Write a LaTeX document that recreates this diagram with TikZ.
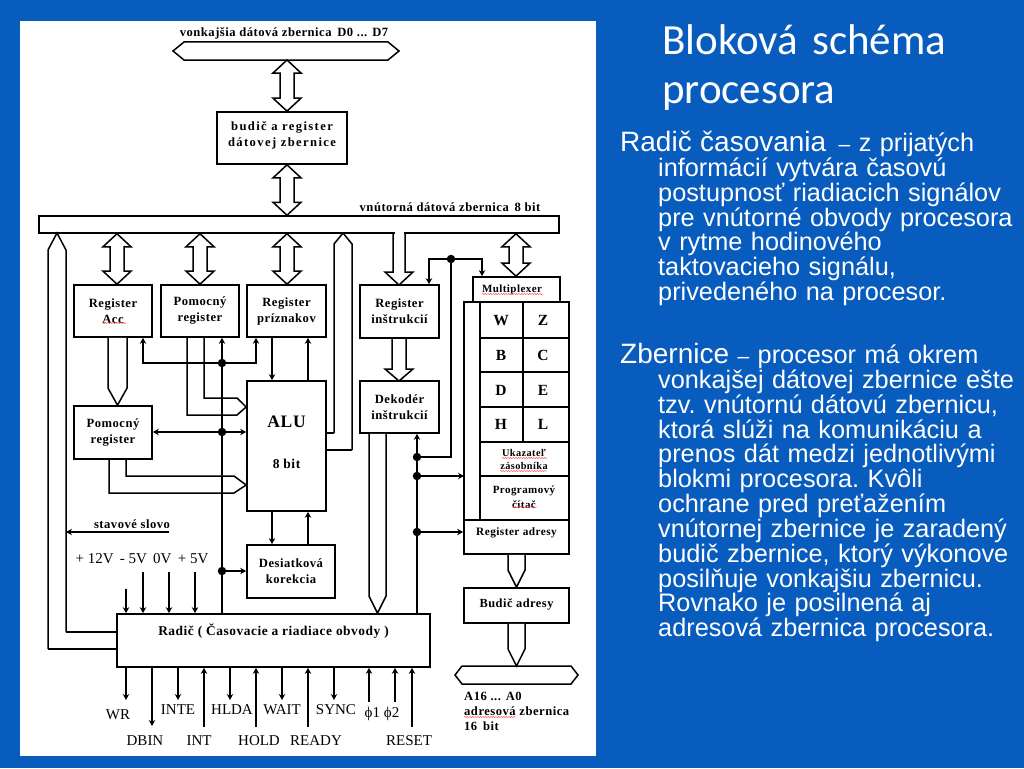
\documentclass[tikz,border=0pt]{standalone}
\usepackage{fontspec}
\usetikzlibrary{arrows.meta,calc,decorations.pathmorphing}
\newfontfamily\boxfont[LetterSpace=4]{Liberation Serif}
\newfontfamily\widefont[LetterSpace=11]{Liberation Serif}
\newfontfamily\labelfont{Liberation Serif}
\newfontfamily\titlefont{Carlito}
\newfontfamily\slidefont{Liberation Sans}
\definecolor{slideblue}{RGB}{8,92,190}
\tikzset{
  box/.style={draw,line width=1.7pt,fill=white,inner sep=0pt,align=center,font=\boxfont\bfseries\fontsize{12.6}{16}\selectfont},
  tbox/.style={box,execute at end node={\\[-8pt]\mbox{}}},
  cell/.style={inner sep=0pt,font=\boxfont\bfseries\fontsize{15.5}{16}\selectfont},
  bus/.style={line width=1.5pt,fill=white,line join=miter},
  sig/.style={line width=1.2pt},
  dot/.style={circle,fill=black,inner sep=0pt,minimum size=8.5pt},
  lbl/.style={inner sep=0pt,font=\labelfont\fontsize{15}{16}\selectfont},
  blbl/.style={inner sep=0pt,font=\boxfont\bfseries\fontsize{12.6}{15}\selectfont,align=left},
  spell/.style={red!65!white,line width=.5pt,decorate,decoration={snake,amplitude=.6pt,segment length=2.6pt}},
  para/.style={anchor=north west,inner sep=0pt,text=white,text width=404pt,font=\slidefont\fontsize{25.3}{24.85}\selectfont},
  >={Stealth[length=6pt,width=6.5pt]}
}
% Wide double arrow: x, upper anchor, lower anchor
\newcommand{\dblarrow}[3]{%
  \path (#1,0 |- #2) coordinate (ua) (#1,0 |- #3) coordinate (ub);
  \draw[bus] (ua) -- ++(-14,13) -- ++(7,0) -- ($(ub)+(-7,-13)$) -- ++(-7,0) -- (ub)
    -- ++(14,-13) -- ++(-7,0) -- ($(ua)+(7,13)$) -- ++(7,0) -- cycle;
}
% Wide pointer going down: x, half width, start anchor, end anchor
\newcommand{\downptr}[4]{%
  \path (#1,0 |- #3) coordinate (ua) (#1,0 |- #4) coordinate (ub);
  \draw[bus] ($(ua)+(-#2,0)$) -- ($(ub)+(-#2,-17)$) -- (ub) -- ($(ub)+(#2,-17)$) -- ($(ua)+(#2,0)$);
}
% Heading words of the slide text
\newcommand{\lead}[1]{{\fontsize{28}{24.85}\selectfont #1}}
\newcommand{\dashmark}{{\fontsize{21}{24.85}\selectfont –}}
\begin{document}
\begin{tikzpicture}[x=1pt,y=-1pt]
  \useasboundingbox (0,0) rectangle (1024,768);
  \fill[slideblue] (0,0) rectangle (1024,768);
  \fill[white] (20,21) rectangle (596,756);

  % External data bus
  \draw[bus] (173,51) -- (184,42) -- (388,42) -- (399,51) -- (388,60) -- (184,60) -- cycle;
  \coordinate (extbus) at (287,60);
  \node[blbl] (extlabel) at (284,33) {vonkajšia dátová zbernica\, D0 ... D7};

  % Driver
  \node[box,minimum width=130pt,minimum height=52pt,font=\widefont\bfseries\fontsize{12.6}{16.5}\selectfont] (driver) at (282,138) {budič a register\\dátovej zbernice\\[-9pt]\mbox{}};
  \dblarrow{287}{extbus}{driver.north}

  % Internal data bus
  \node[draw,bus,minimum width=520pt,minimum height=17pt,inner sep=0pt] (intbus) at (299,224.5) {};
  \node[blbl] (intlabel) at (450,207) {vnútorná dátová zbernica\, 8 bit};
  \dblarrow{287}{driver.south}{intbus.north}

  % Registers
  \node[tbox,minimum width=78pt,minimum height=52pt] (acc) at (113,311) {Register\\Acc};
  \node[tbox,minimum width=78pt,minimum height=52pt] (aux) at (200,311) {Pomocný\\register};
  \node[tbox,minimum width=79pt,minimum height=52pt] (flags) at (286.5,311) {Register\\príznakov};
  \node[tbox,minimum width=78pt,minimum height=53pt] (auxtwo) at (113,432.5) {Pomocný\\register};
  \node[box,minimum width=79pt,minimum height=130pt,font=\boxfont\bfseries\fontsize{17.5}{30}\selectfont] (alu) at (286.5,446) {\mbox{}\\[-25pt]ALU\\[11pt]\fontsize{13.5}{14}\selectfont 8 bit};
  \node[tbox,minimum width=88pt,minimum height=53pt] (decimal) at (291,571.5) {Desiatková\\korekcia};
  \node[tbox,minimum width=79pt,minimum height=53pt] (instr) at (399.5,311.5) {Register\\inštrukcií};
  \node[tbox,minimum width=79pt,minimum height=52pt] (decoder) at (399.5,407) {Dekodér\\inštrukcií};
  \node[box,minimum width=313pt,minimum height=53pt,text depth=22pt,font=\boxfont\bfseries\fontsize{13.4}{14}\selectfont] (ctrl) at (273.5,640.5) {Radič ( Časovacie a riadiace obvody )};
  \dblarrow{117}{intbus.south}{acc.north}
  \dblarrow{200}{intbus.south}{aux.north}
  \dblarrow{287}{intbus.south}{flags.north}

  % Register stack
  \node[box,minimum width=87pt,minimum height=25pt,font=\boxfont\bfseries\fontsize{11}{12}\selectfont] (mux) at (516.5,289.5) {Multiplexer\hspace*{9pt}};
  \dblarrow{516}{intbus.south}{mux.north}
  \draw[line width=1.7pt,fill=white] (464,302) rectangle (569,520);
  \draw[line width=1.4pt] (480,302) -- (480,520) (523,302) -- (523,442);
  \draw[line width=1.4pt] (480,338) -- (569,338) (480,372) -- (569,372) (480,407) -- (569,407) (480,442) -- (569,442) (480,476) -- (569,476);
  \node[cell] (regw) at (501,320.5) {W};
  \node[cell] (regz) at (543,320.5) {Z};
  \node[cell] (regb) at (501,355) {B};
  \node[cell] (regc) at (543,355) {C};
  \node[cell] (regd) at (501,390) {D};
  \node[cell] (rege) at (543,390) {E};
  \node[cell] (regh) at (501,424) {H};
  \node[cell] (regl) at (543,424) {L};
  \node[inner sep=0pt,align=center,font=\boxfont\bfseries\fontsize{10.3}{13}\selectfont] (stack) at (524,459) {Ukazateľ\\zásobníka};
  \node[inner sep=0pt,align=center,font=\boxfont\bfseries\fontsize{11}{15}\selectfont] (pc) at (524,497) {Programový\\čítač};
  \node[box,minimum width=105pt,minimum height=34pt,font=\boxfont\bfseries\fontsize{11.3}{12}\selectfont] (addr) at (516.5,537) {Register adresy\\[-2pt]\mbox{}};
  \node[box,minimum width=105pt,minimum height=35pt,font=\boxfont\bfseries\fontsize{12.4}{12}\selectfont] (addrdrv) at (516.5,605.5) {Budič adresy\\[-7pt]\mbox{}};

  % Address bus
  \draw[bus] (455,675) -- (462,666) -- (571,666) -- (578,675) -- (571,684) -- (462,684) -- cycle;
  \coordinate (addrbus) at (516,666);
  \node[blbl,anchor=north west] (addrlabel) at (464,692) {A16 ... A0\\adresová zbernica\\16\, bit};
  \downptr{516.5}{8.5}{addr.south}{addrdrv.north}
  \downptr{516.5}{8.5}{addrdrv.south}{addrbus}

  % Pointers into and out of the buses
  \draw[bus,fill=none] (48,649) -- (48,250) -- (57,233) -- (66,250) -- (66,632);
  \draw[bus] (48,649) -- (ctrl.west |- 0,649);
  \draw[bus] (66,632) -- (ctrl.west |- 0,632);
  \draw[bus,fill=none] (334,433) -- (334,244) -- (343,233) -- (352,244) -- (352,450);
  \draw[bus] (334,433) -- (alu.east |- 0,433);
  \draw[bus] (352,450) -- (alu.east |- 0,450);
  \fill[white] (394.5,230) rectangle (403.5,238);
  \draw[bus,fill=none] (393,233) -- (393,272) -- (385,272) -- (399,285) -- (413,272) -- (405,272) -- (405,233);
  \downptr{117.5}{9.5}{acc.south}{auxtwo.north}
  \downptr{377.5}{8.5}{decoder.south}{ctrl.north}
  % Register to decoder
  \draw[bus,fill=none] (392,338) -- (392,369) -- (385,369) -- (399,381) -- (413,369) -- (406,369) -- (406,338);

  % Into the ALU
  \draw[bus,fill=none] (187,337) -- (187,415) -- (237,415) -- (alu.west |- 0,407) -- (237,398) -- (204,398) -- (204,337);
  \draw[bus,fill=none] (126,459) -- (126,476) -- (234,476) -- (alu.west |- 0,485) -- (234,493) -- (109,493) -- (109,459);

  % Signal lines
  \node[dot] (dota) at (222,363) {};
  \node[dot] (dotb) at (222,432) {};
  \node[dot] (dotc) at (222,571) {};
  \draw[sig,->] (222,0 |- ctrl.north) -- (222,0 |- aux.south);
  \draw[sig,->] (dota) -- (143,363) -- (143,0 |- acc.south);
  \draw[sig,->] (dota) -- (256,363) -- (256,0 |- flags.south);
  \draw[sig,->] (dotb) -- (auxtwo.east |- dotb);
  \draw[sig,->] (dotb) -- (alu.west |- dotb);
  \draw[sig,->] (dotc) -- (decimal.west |- dotc);
  \draw[sig,->] (272,0 |- flags.south) -- (272,0 |- alu.north);
  \draw[sig,->] (308,0 |- alu.north) -- (308,0 |- flags.south);
  \draw[sig,->] (272,0 |- alu.south) -- (272,0 |- decimal.north);
  \draw[sig,->] (308,0 |- decimal.north) -- (308,0 |- alu.south);

  \node[dot] (dotd) at (417,457) {};
  \node[dot] (dote) at (417,476) {};
  \node[dot] (dotf) at (417,532) {};
  \node[dot] (dotg) at (451,259) {};
  \draw[sig,->] (417,0 |- ctrl.north) -- (417,0 |- decoder.south);
  \draw[sig] (dotd) -- (451,457) -- (dotg);
  \draw[sig,->] (dotg) -- (429,259) -- (429,0 |- instr.north);
  \draw[sig,->] (dotg) -- (482,259) -- (482,0 |- mux.north);
  \draw[sig,->] (dote) -- (464,476);
  \draw[sig,->] (dotf) -- (addr.west |- dotf);

  % Status word and supply
  \node[blbl] (status) at (132,524) {stavové slovo};
  \draw[sig,->] (169,532) -- (66,532);
  \node[lbl] (supply) at (142,559) {+ 12V\, - 5V\, 0V\, + 5V};
  \draw[sig,->] (126,589) -- (126,0 |- ctrl.north);
  \draw[sig,->] (143,572) -- (143,0 |- ctrl.north);
  \draw[sig,->] (169,572) -- (169,0 |- ctrl.north);
  \draw[sig,->] (195,572) -- (195,0 |- ctrl.north);

  % Controller signals
  \node[lbl] (lblwr) at (118,715) {WR};
  \node[lbl] (lbldbin) at (145,741) {DBIN};
  \node[lbl] (lblinte) at (178,710) {INTE};
  \node[lbl] (lblint) at (199,741) {INT};
  \node[lbl] (lblhlda) at (232,710) {HLDA};
  \node[lbl] (lblhold) at (259,741) {HOLD};
  \node[lbl] (lblwait) at (282,710) {WAIT};
  \node[lbl] (lblready) at (316,741) {READY};
  \node[lbl] (lblsync) at (336,710) {SYNC};
  \node[lbl] (lblphi) at (382,714) {ϕ1 ϕ2};
  \node[lbl] (lblreset) at (409,741) {RESET};
  \draw[sig,->] (126,0 |- ctrl.south) -- (126,700);
  \draw[sig,->] (152,0 |- ctrl.south) -- (152,726);
  \draw[sig,->] (178,0 |- ctrl.south) -- (178,700);
  \draw[sig,->] (204,727) -- (204,0 |- ctrl.south);
  \draw[sig,->] (230,0 |- ctrl.south) -- (230,700);
  \draw[sig,->] (256,727) -- (256,0 |- ctrl.south);
  \draw[sig,->] (282,0 |- ctrl.south) -- (282,700);
  \draw[sig,->] (308,727) -- (308,0 |- ctrl.south);
  \draw[sig,->] (334,0 |- ctrl.south) -- (334,700);
  \draw[sig,->] (369,702) -- (369,0 |- ctrl.south);
  \draw[sig,->] (395,702) -- (395,0 |- ctrl.south);
  \draw[sig,->] (412,727) -- (412,0 |- ctrl.south);

  % Spell checker marks
  \draw[spell] (102,323) -- (126,323);
  \draw[spell] (482,294) -- (543,294);
  \draw[spell] (502,458) -- (547,458);
  \draw[spell] (500,471) -- (547,471);
  \draw[spell] (512,507) -- (537,507);
  \draw[spell] (464,717) -- (516,717);

  % Slide text
  \node[anchor=north west,inner sep=0pt,text=white,text width=360pt,font=\titlefont\fontsize{43}{49}\selectfont] (title) at (662,24) {Bloková schéma\\procesora};
  \node[para] (radic) at (620,131) {\frenchspacing\raggedright\hangindent=38pt\hangafter=1 \lead{Radič časovania} \hspace{4pt}\dashmark{} z prijatých\newline informácií vytvára časovú\newline postupnosť riadiacich signálov\newline pre vnútorné obvody procesora\newline v rytme hodinového\newline taktovacieho signálu,\newline privedeného na procesor.\par};
  \node[para] (zbernice) at (620,343) {\frenchspacing\raggedright\hangindent=38pt\hangafter=1 \lead{Zbernice} \dashmark{} procesor má okrem\newline vonkajšej dátovej zbernice ešte\newline tzv. vnútornú dátovú zbernicu,\newline ktorá slúži na komunikáciu a\newline prenos dát medzi jednotlivými\newline blokmi procesora. Kvôli\newline ochrane pred preťažením\newline vnútornej zbernice je zaradený\newline budič zbernice, ktorý výkonove\newline posilňuje vonkajšiu zbernicu.\newline Rovnako je posilnená aj\newline adresová zbernica procesora.\par};
\end{tikzpicture}
\end{document}
